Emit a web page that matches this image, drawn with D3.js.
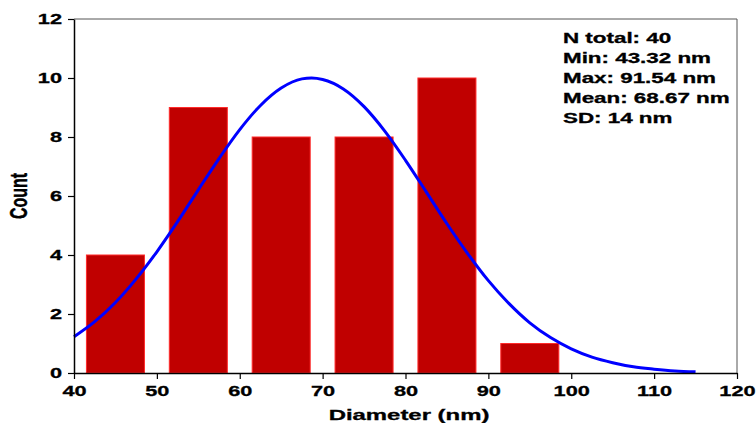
<!DOCTYPE html>
<html lang="en">
<head>
<meta charset="UTF-8">
<title>Diameter histogram</title>
<script src="https://d3js.org/d3.v7.min.js"></script>
<style>
    body { margin: 0; background: #fff; }
    text { font-family: "Liberation Sans", Arial, sans-serif; font-weight: bold; fill: #000; stroke: #000; stroke-width: 0.3; }
    .bar { fill: #c00000; stroke: #ff2a2a; stroke-width: 1; }
    .fit { fill: none; stroke: #0000ff; stroke-width: 3; }
</style>
</head>
<body>
<svg width="756" height="423"></svg>
<script>
    // histogram bins (nm) and counts
    const binStart = [41.5, 51.5, 61.5, 71.5, 81.5, 91.5];
    const binEnd = [48.5, 58.5, 68.5, 78.5, 88.5, 98.5];
    const counts = [4, 9, 8, 8, 10, 1];

    // normal fit curve
    const fitX = [40, 42.5, 45, 47.5, 50, 52.5, 55, 57.5, 60, 62.5, 65, 67.5, 68.67, 70, 72.5, 75, 77.5, 80, 82.5, 85, 87.5, 90, 92.5, 95, 97.5, 100, 102.5, 105, 107.5, 110, 112.5, 115];
    const fitY = [1.23, 1.74, 2.39, 3.19, 4.11, 5.13, 6.21, 7.27, 8.25, 9.07, 9.66, 9.97, 10, 9.95, 9.63, 9.03, 8.2, 7.21, 6.14, 5.06, 4.05, 3.13, 2.35, 1.7, 1.2, 0.82, 0.54, 0.35, 0.21, 0.13, 0.07, 0.04];

    const xTicks = [40, 50, 60, 70, 80, 90, 100, 110, 120];
    const yTicks = [0, 2, 4, 6, 8, 10, 12];
    const stats = ["N total: 40", "Min: 43.32 nm", "Max: 91.54 nm", "Mean: 68.67 nm", "SD: 14 nm"];

    const svg = d3.select("svg");
    const margin = { top: 19, right: 19, bottom: 50, left: 74 };
    const width = 756 - margin.left - margin.right,
          height = 423 - margin.top - margin.bottom;

    // the original picture is stretched sideways, so text is too
    const stretch = 1.45;

    const g = svg.append("g").attr("transform", `translate(${margin.left},${margin.top})`);

    const x = d3.scaleLinear().domain([40, 120]).range([0, width]);
    const y = d3.scaleLinear().domain([0, 12]).range([height, 0]);

    // bars
    g.selectAll(".bar")
        .data(counts)
        .join("rect")
        .attr("class", "bar")
        .attr("x", (d, i) => x(binStart[i]))
        .attr("width", (d, i) => x(binEnd[i]) - x(binStart[i]))
        .attr("y", d => y(d))
        .attr("height", d => y(0) - y(d));

    // fit curve
    const line = d3.line()
        .x((d, i) => x(fitX[i]))
        .y(d => y(d))
        .curve(d3.curveMonotoneX);
    g.append("path").datum(fitY).attr("class", "fit").attr("d", line);

    // frame (top and right)
    g.append("line").attr("x1", 0).attr("x2", width).attr("y1", 0).attr("y2", 0)
        .attr("stroke", "#555").attr("stroke-width", 1);
    g.append("line").attr("x1", width).attr("x2", width).attr("y1", 0).attr("y2", height)
        .attr("stroke", "#555").attr("stroke-width", 1);

    // axes
    const xAxis = g.append("g").attr("transform", `translate(0,${height})`)
        .call(d3.axisBottom(x).tickValues(xTicks).tickSize(6).tickSizeOuter(0).tickPadding(6));
    const yAxis = g.append("g")
        .call(d3.axisLeft(y).tickValues(yTicks).tickSize(6).tickSizeOuter(0));
    [xAxis, yAxis].forEach(a => {
        a.attr("font-family", null).attr("font-size", null);
        a.selectAll("text").style("font-size", "15px");
        a.select(".domain").attr("stroke", "#000").attr("stroke-width", 1.5);
        a.selectAll(".tick line").attr("stroke", "#000").attr("stroke-width", 1.2);
    });
    xAxis.selectAll(".tick text").attr("transform", `scale(${stretch},1)`);
    yAxis.selectAll(".tick text").attr("x", 0)
        .attr("transform", `translate(-12,0) scale(${stretch},1)`);

    // axis titles
    svg.append("text")
        .attr("transform", `translate(409,420) scale(1.65,1)`)
        .attr("text-anchor", "middle").style("font-size", "14.5px")
        .text("Diameter (nm)");
    svg.append("text")
        .attr("transform", `translate(27,196) scale(1.45,1) rotate(-90)`)
        .attr("text-anchor", "middle").style("font-size", "16px")
        .text("Count");

    // statistics
    svg.append("g").selectAll("text")
        .data(stats)
        .join("text")
        .attr("transform", (d, i) => `translate(563,${42.5 + i * 20.2}) scale(1.6,1)`)
        .style("font-size", "14px")
        .text(d => d);
</script>
</body>
</html>
